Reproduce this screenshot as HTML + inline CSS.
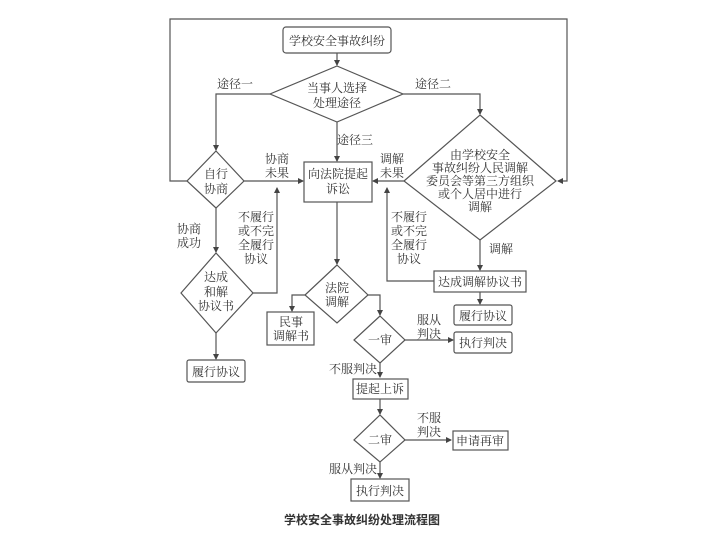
<!DOCTYPE html>
<html><head><meta charset="utf-8"><style>
html,body{margin:0;padding:0;background:#fff;}
svg{display:block;}
text{font-family:"Liberation Serif","Noto Serif CJK SC",serif;font-size:12px;fill:#333;text-anchor:middle;}
</style></head><body>
<svg width="720" height="534" viewBox="0 0 720 534" xmlns="http://www.w3.org/2000/svg">
<defs><marker id="a" markerWidth="6" markerHeight="6" refX="5" refY="3" orient="auto" markerUnits="userSpaceOnUse"><path d="M0,0 L6,3 L0,6 z" fill="#444"/></marker></defs>
<g stroke="#555" stroke-width="1.2" fill="none">
<polyline points="187,181 170,181 170,19 567,19 567,181 558,181" marker-end="url(#a)"/>
<rect x="283" y="27" width="108" height="26" rx="3"/>
<line x1="337" y1="53" x2="337" y2="65" marker-end="url(#a)"/>
<polygon points="337,66 403,94 337,122 270,94"/>
<polyline points="270,94 216,94 216,150" marker-end="url(#a)"/>
<polyline points="403,94 480,94 480,114" marker-end="url(#a)"/>
<line x1="337" y1="122" x2="337" y2="161" marker-end="url(#a)"/>
<polygon points="216,151 244,181 216,208 187,181"/>
<rect x="304" y="162" width="68" height="40"/>
<line x1="244" y1="181" x2="303" y2="181" marker-end="url(#a)"/>
<polygon points="480,115 556,181 480,240 404,181"/>
<line x1="404" y1="181" x2="373" y2="181" marker-end="url(#a)"/>
<line x1="216" y1="208" x2="216" y2="252" marker-end="url(#a)"/>
<polygon points="216,253 253,293 216,333 181,293"/>
<polyline points="253,293 277,293 277,188" marker-end="url(#a)"/>
<line x1="216" y1="333" x2="216" y2="359" marker-end="url(#a)"/>
<rect x="187" y="360" width="58" height="22" rx="2"/>
<line x1="480" y1="240" x2="480" y2="270" marker-end="url(#a)"/>
<rect x="434" y="271" width="92" height="21"/>
<polyline points="434,281 387,281 387,188" marker-end="url(#a)"/>
<line x1="480" y1="292" x2="480" y2="304" marker-end="url(#a)"/>
<rect x="454" y="305" width="58" height="20" rx="2"/>
<line x1="337" y1="202" x2="337" y2="264" marker-end="url(#a)"/>
<polygon points="337,265 368,295 337,323 305,295"/>
<polyline points="305,295 292,295 292,311" marker-end="url(#a)"/>
<rect x="267" y="312" width="47" height="33"/>
<polyline points="368,295 380,295 380,315" marker-end="url(#a)"/>
<polygon points="380,316 405,340 380,363 354,340"/>
<line x1="405" y1="340" x2="453" y2="340" marker-end="url(#a)"/>
<rect x="454" y="332" width="58" height="21" rx="2"/>
<line x1="380" y1="363" x2="380" y2="377" marker-end="url(#a)"/>
<rect x="353" y="379" width="55" height="20"/>
<line x1="380" y1="399" x2="380" y2="414" marker-end="url(#a)"/>
<polygon points="380,415 405,440 380,462 354,440"/>
<line x1="405" y1="440" x2="451" y2="440" marker-end="url(#a)"/>
<rect x="453" y="431" width="55" height="19"/>
<line x1="380" y1="462" x2="380" y2="478" marker-end="url(#a)"/>
<rect x="351" y="479" width="58" height="22"/>
</g>
<text x="337" y="45" font-size="13">学校安全事故纠纷</text>
<text x="337" y="92">当事人选择</text><text x="337" y="107">处理途径</text>
<text x="235" y="88">途径一</text><text x="433" y="88">途径二</text><text x="355" y="144">途径三</text>
<text x="216" y="178">自行</text><text x="216" y="193">协商</text>
<text x="277" y="163">协商</text><text x="277" y="177">未果</text>
<text x="392" y="163">调解</text><text x="392" y="177">未果</text>
<text x="338" y="178">向法院提起</text><text x="338" y="193">诉讼</text>
<text x="480" y="159">由学校安全</text><text x="480" y="172">事故纠纷人民调解</text><text x="480" y="185">委员会等第三方组织</text><text x="480" y="198">或个人居中进行</text><text x="480" y="211">调解</text>
<text x="189" y="233">协商</text><text x="189" y="247">成功</text>
<text x="256" y="221">不履行</text><text x="256" y="235">或不完</text><text x="256" y="249">全履行</text><text x="256" y="263">协议</text>
<text x="409" y="221">不履行</text><text x="409" y="235">或不完</text><text x="409" y="249">全履行</text><text x="409" y="263">协议</text>
<text x="501" y="253">调解</text>
<text x="216" y="281">达成</text><text x="216" y="296">和解</text><text x="216" y="310">协议书</text>
<text x="216" y="376">履行协议</text>
<text x="480" y="286">达成调解协议书</text>
<text x="483" y="320">履行协议</text>
<text x="337" y="292">法院</text><text x="337" y="306">调解</text>
<text x="291" y="326">民事</text><text x="291" y="340">调解书</text>
<text x="380" y="344">一审</text>
<text x="429" y="324">服从</text><text x="429" y="338">判决</text>
<text x="483" y="347">执行判决</text>
<text x="353" y="373">不服判决</text>
<text x="380" y="393">提起上诉</text>
<text x="380" y="444">二审</text>
<text x="429" y="422">不服</text><text x="429" y="436">判决</text>
<text x="480" y="445">申请再审</text>
<text x="353" y="473">服从判决</text>
<text x="380" y="495">执行判决</text>
<text x="362" y="524" font-weight="bold" style="font-family:'Noto Sans CJK SC',sans-serif" fill="#222">学校安全事故纠纷处理流程图</text>
</svg>
</body></html>
